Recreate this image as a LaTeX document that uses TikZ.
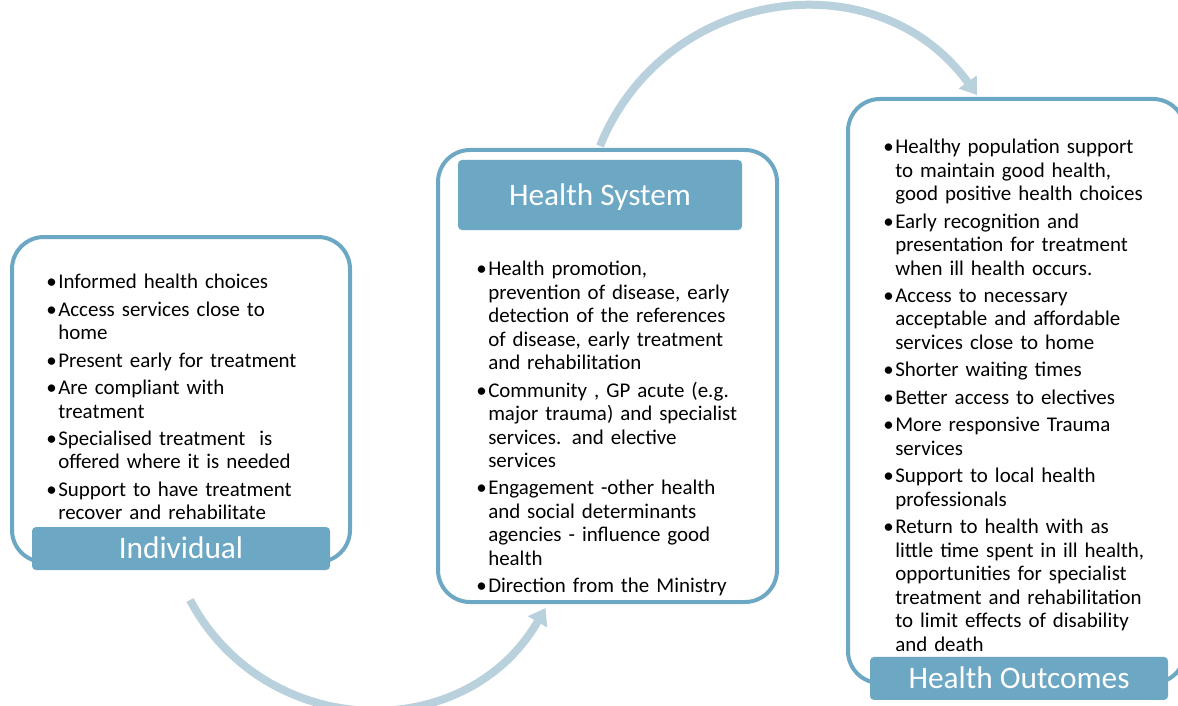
\documentclass[tikz,border=0pt]{standalone}
\usepackage{fontspec}
\setmainfont{Carlito}
\usetikzlibrary{positioning,arrows.meta}
\definecolor{boxblue}{RGB}{108,167,196}
\definecolor{flowblue}{RGB}{185,208,221}
% one bullet point, hanging indent
\newcommand{\bul}[1]{\par\addvspace{3pt}\hangindent=9pt\hangafter=1\noindent
  \hbox to 9pt{\textbullet\hss}#1\par}
\tikzset{
  boxframe/.style = {draw=boxblue, line width=3pt, fill=white, rounded corners=24pt,
                     rectangle, inner sep=0pt},
  tag/.style      = {fill=boxblue, rounded corners=3pt, text=white, inner sep=0pt,
                     text height=15pt, text depth=0pt,
                     font=\fontsize{23.5}{28}\selectfont},
  items/.style    = {anchor=north west, text width=210pt, align=left, inner sep=0pt,
                     font=\fontsize{15.7}{17.6}\selectfont},
  flow/.style     = {draw=flowblue, line width=6pt, looseness=1.15,
                     -{Triangle[width=16pt,length=12pt]}}
}
\begin{document}
\begin{tikzpicture}[x=0.75pt, y=-0.75pt]
  \useasboundingbox (0,0) rectangle (1178,706);
  % the three frames
  \node[boxframe, minimum width=253.5pt, minimum height=243.75pt] (ind) at (181,399.5) {};
  \node[boxframe, minimum width=254.25pt, minimum height=339pt] (sys) at (607.5,376) {};
  \node[boxframe, minimum width=252.75pt, minimum height=438pt] (out) at (1016.5,391) {};
  % titles, placed on the frames
  \node[tag, minimum width=223.5pt, minimum height=32.25pt] (indtag)
    at ([yshift=11.6pt]ind.south) {Individual};
  \node[tag, minimum width=213pt, minimum height=52.5pt] (systag)
    at ([xshift=-5.6pt,yshift=-35.25pt]sys.north) {Health System};
  \node[tag, minimum width=223.5pt, minimum height=32.25pt] (outtag)
    at ([xshift=1.9pt,yshift=4.9pt]out.south) {Health Outcomes};
  % bullet lists
  \node[items] (indtext) at (46,261) {%
    \bul{Informed health choices}
    \bul{Access services close to\newline home}
    \bul{Present early for treatment}
    \bul{Are compliant with\newline treatment}
    \bul{Specialised treatment\ \ is\newline offered where it is needed}
    \bul{Support to have treatment\newline recover and rehabilitate}};
  \node[items] (systext) at (476,248) {%
    \bul{Health promotion,\newline prevention of disease, early\newline detection of the references\newline
      of disease, early treatment\newline and rehabilitation}
    \bul{Community , GP acute (e.g.\newline major trauma) and specialist\newline
      services. and elective\newline services}
    \bul{Engagement -other health\newline and social determinants\newline
      agencies - influence good\newline health}
    \bul{Direction from the Ministry}};
  \node[items] (outtext) at (883,126) {%
    \bul{Healthy population support\newline to maintain good health,\newline good positive health choices}
    \bul{Early recognition and\newline presentation for treatment\newline when ill health occurs.}
    \bul{Access to necessary\newline acceptable and affordable\newline services close to home}
    \bul{Shorter waiting times}
    \bul{Better access to electives}
    \bul{More responsive Trauma\newline services}
    \bul{Support to local health\newline professionals}
    \bul{Return to health with as\newline little time spent in ill health,\newline
      opportunities for specialist\newline treatment and rehabilitation\newline
      to limit effects of disability\newline and death}};
  % arrows from frame to frame
  \draw[flow] ([xshift=6.75pt,yshift=-27pt]ind.south) to[out=-62,in=-120]
    ([xshift=-46.5pt,yshift=-3pt]sys.south);
  \draw[flow] ([xshift=-5.6pt,yshift=1.5pt]sys.north) to[out=68,in=126]
    ([xshift=-29.6pt,yshift=1.5pt]out.north);
\end{tikzpicture}
\end{document}
